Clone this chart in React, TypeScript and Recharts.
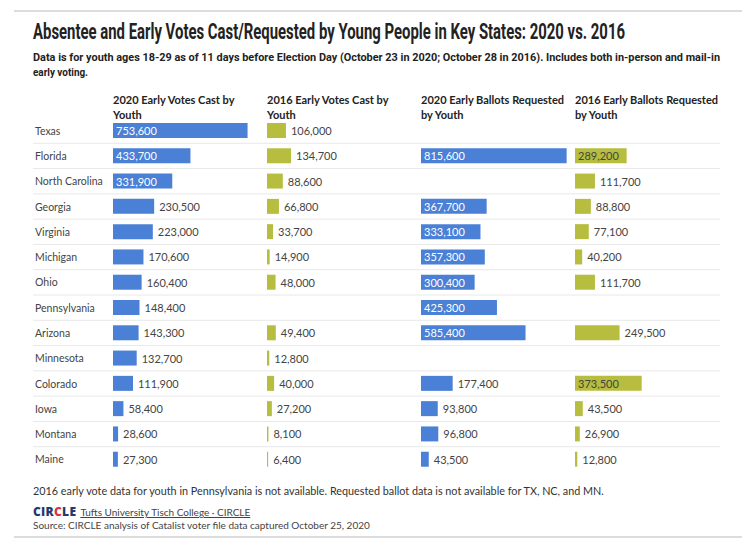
import React from 'react';
import { BarChart, Bar, XAxis, YAxis, LabelList, ReferenceLine } from 'recharts';

const states = ['Texas', 'Florida', 'North Carolina', 'Georgia', 'Virginia', 'Michigan', 'Ohio', 'Pennsylvania', 'Arizona', 'Minnesota', 'Colorado', 'Iowa', 'Montana', 'Maine'];
const votes2020 = [753600, 433700, 331900, 230500, 223000, 170600, 160400, 148400, 143300, 132700, 111900, 58400, 28600, 27300];
const votes2016 = [106000, 134700, 88600, 66800, 33700, 14900, 48000, null, 49400, 12800, 40000, 27200, 8100, 6400];
const requested2020 = [null, 815600, null, 367700, 333100, 357300, 300400, 425300, 585400, null, 177400, 93800, 96800, 43500];
const requested2016 = [null, 289200, 111700, 88800, 77100, 40200, 111700, null, 249500, null, 373500, 43500, 26900, 12800];
const columnTitles = [
  ['2020 Early Votes Cast by', 'Youth'],
  ['2016 Early Votes Cast by', 'Youth'],
  ['2020 Early Ballots Requested', 'by Youth'],
  ['2016 Early Ballots Requested', 'by Youth'],
];

const rows = states.map((state, i) => ({
  state,
  v2020: votes2020[i],
  v2016: votes2016[i],
  r2020: requested2020[i],
  r2016: requested2016[i],
}));

const BLUE = '#4a80d6';
const OLIVE = '#b7bd3e';
const TEXT = '#333333';
const BODY_FONT = 'Lato, "Open Sans", sans-serif';
const COND_FONT = 'Roboto, "Noto Sans", sans-serif';
const UNITS_PER_PX = 5600;
const ROWS_TOP = 117.5;
const ROWS_HEIGHT = 354;
const LABEL_W = 80;
const TITLE_SX = 0.62;
const SUB_SX = 0.78;

const columns = [
  { key: 'v2020', left: 113, width: 154, color: BLUE, inside: '#ffffff' },
  { key: 'v2016', left: 267, width: 154, color: OLIVE, inside: '#444444' },
  { key: 'r2020', left: 421, width: 154, color: BLUE, inside: '#ffffff' },
  { key: 'r2016', left: 575, width: 145, color: OLIVE, inside: '#444444' },
];

const fmt = (v: number) => v.toLocaleString('en-US');

const makeLabel = (insideColor: string) => (props: any) => {
  const vb = props.viewBox && props.viewBox.width != null ? props.viewBox : props;
  const { x, y, width, height } = vb;
  const value = props.value;
  if (value == null || !width) return null;
  const inside = width > 48;
  return (
    <text
      x={inside ? x + 3 : x + width + 5}
      y={y + height / 2}
      dominantBaseline="central"
      fontFamily={BODY_FONT}
      fontSize={11}
      fill={inside ? insideColor : '#444444'}
    >
      {fmt(value)}
    </text>
  );
};

const StateTick = (props: any) => (
  <text x={2} y={props.y} dominantBaseline="central" fontFamily={BODY_FONT} fontSize={10.5} fill="#444444">
    {props.payload.value}
  </text>
);

export default function App() {
  return (
    <div style={{ position: 'absolute', left: 0, top: 0, width: 750, height: 547, background: '#fff', color: TEXT, overflow: 'hidden' }}>
      <div style={{ position: 'absolute', left: 14, top: 10, width: 728, height: 2, background: '#dcdcdc' }} />
      <div style={{ position: 'absolute', left: 14, top: 536, width: 728, height: 2, background: '#dcdcdc' }} />

      <svg width={750} height={90} style={{ position: 'absolute', left: 0, top: 0 }}>
        <g transform={`translate(33,0) scale(${TITLE_SX},1)`}>
          <text x={0} y={39.5} fontFamily={COND_FONT} fontWeight={700} fontSize={21.5} fill="#222" textLength={592 / TITLE_SX} lengthAdjust="spacingAndGlyphs">
            Absentee and Early Votes Cast/Requested by Young People in Key States: 2020 vs. 2016
          </text>
        </g>
        <g transform={`translate(33,0) scale(${SUB_SX},1)`}>
          <text x={0} y={61} fontFamily={COND_FONT} fontWeight={700} fontSize={11.5} fill="#222" textLength={687 / SUB_SX} lengthAdjust="spacingAndGlyphs">
            Data is for youth ages 18-29 as of 11 days before Election Day (October 23 in 2020; October 28 in 2016). Includes both in-person and mail-in
          </text>
          <text x={0} y={76} fontFamily={COND_FONT} fontWeight={700} fontSize={11.5} fill="#222" textLength={55 / SUB_SX} lengthAdjust="spacingAndGlyphs">
            early voting.
          </text>
        </g>
      </svg>

      {columnTitles.map((t, i) => (
        <div key={i} style={{ position: 'absolute', left: columns[i].left, top: 92, fontFamily: BODY_FONT, fontWeight: 700, fontSize: 11, lineHeight: '15px', whiteSpace: 'nowrap', color: '#222' }}>
          {t[0]}
          <br />
          {t[1]}
        </div>
      ))}

      <div style={{ position: 'absolute', left: 33, top: ROWS_TOP }}>
        <BarChart layout="vertical" width={687} height={ROWS_HEIGHT} data={rows} margin={{ top: 0, right: 0, bottom: 0, left: 0 }}>
          <XAxis type="number" domain={[0, 687 * UNITS_PER_PX]} allowDataOverflow hide />
          <YAxis type="category" dataKey="state" hide />
          {states.slice(1).map((s) => (
            <ReferenceLine key={s} y={s} position="start" stroke="#e8e8e8" strokeWidth={1} />
          ))}
        </BarChart>
      </div>

      {columns.map((c, i) => (
        <div key={c.key} style={{ position: 'absolute', left: i === 0 ? c.left - LABEL_W : c.left, top: ROWS_TOP }}>
          <BarChart
            layout="vertical"
            width={i === 0 ? c.width + LABEL_W : c.width}
            height={ROWS_HEIGHT}
            data={rows}
            margin={{ top: 0, right: 0, bottom: 0, left: 0 }}
          >
            <XAxis type="number" domain={[0, c.width * UNITS_PER_PX]} allowDataOverflow hide />
            <YAxis
              type="category"
              dataKey="state"
              hide={i !== 0}
              width={LABEL_W}
              axisLine={false}
              tickLine={false}
              tick={<StateTick />}
              interval={0}
            />
            <Bar dataKey={c.key} fill={c.color} barSize={15} isAnimationActive={false}>
              <LabelList dataKey={c.key} content={makeLabel(c.inside)} />
            </Bar>
          </BarChart>
        </div>
      ))}

      <div style={{ position: 'absolute', left: 33, top: 484, fontFamily: BODY_FONT, fontSize: 10.8, lineHeight: '14px', whiteSpace: 'nowrap', color: '#333' }}>
        2016 early vote data for youth in Pennsylvania is not available. Requested ballot data is not available for TX, NC, and MN.
      </div>
      <div style={{ position: 'absolute', left: 33, top: 502, fontFamily: BODY_FONT, lineHeight: '16px', whiteSpace: 'nowrap' }}>
        <span style={{ fontFamily: '"Open Sans", sans-serif', fontWeight: 800, fontSize: 12, color: '#1f3a6e', letterSpacing: 0.3 }}>
          CIR<span style={{ color: '#d7363b' }}>C</span>LE
        </span>{' '}
        <span style={{ fontFamily: BODY_FONT, fontSize: 10, color: '#444', textDecoration: 'underline' }}>
          Tufts University Tisch College · CIRCLE
        </span>
      </div>
      <div style={{ position: 'absolute', left: 33, top: 519, fontFamily: BODY_FONT, fontSize: 10, lineHeight: '13px', whiteSpace: 'nowrap', color: '#444' }}>
        Source: CIRCLE analysis of Catalist voter file data captured October 25, 2020
      </div>
    </div>
  );
}
